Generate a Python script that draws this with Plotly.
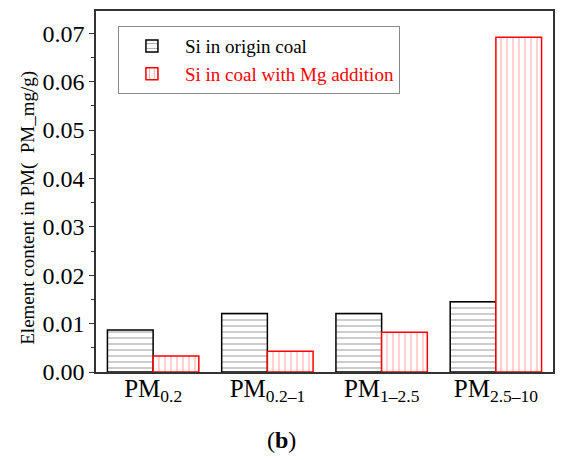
import plotly.graph_objects as go

# Particle size fractions and Si content (mg/g PM)
categories = ["PM<sub>0.2</sub>", "PM<sub>0.2–1</sub>", "PM<sub>1–2.5</sub>", "PM<sub>2.5–10</sub>"]
si_origin = [0.0087, 0.0121, 0.0121, 0.0145]
si_mg_addition = [0.0033, 0.0043, 0.0082, 0.0692]

series_names = ["Si in origin coal", "<span style='color:red'>Si in coal with Mg addition</span>"]
y_title = "Element content in PM(  PM_mg/g)"

FONT = "Liberation Serif"

fig = go.Figure()
fig.add_trace(go.Bar(
    x=categories, y=si_origin, name=series_names[0],
    marker=dict(
        color="white",
        line=dict(color="black", width=1.5),
        pattern=dict(shape="-", fgcolor="#444444", bgcolor="white", size=6, solidity=0.18),
    ),
))
fig.add_trace(go.Bar(
    x=categories, y=si_mg_addition, name=series_names[1],
    marker=dict(
        color="white",
        line=dict(color="red", width=1.5),
        pattern=dict(shape="|", fgcolor="#ff5555", bgcolor="white", size=6, solidity=0.18),
    ),
))

fig.update_layout(
    width=563, height=460,
    margin=dict(l=96, r=8, t=11, b=88),
    plot_bgcolor="white", paper_bgcolor="white",
    barmode="group", bargap=0.2, bargroupgap=0,
    font=dict(family=FONT, color="black"),
    showlegend=True,
    legend=dict(
        x=0.048, y=0.958, xanchor="left", yanchor="top",
        bgcolor="white", bordercolor="#888888", borderwidth=1,
        font=dict(size=19, family=FONT),
        traceorder="normal", itemwidth=56, tracegroupgap=0,
    ),
    xaxis=dict(
        showline=True, linecolor="#333333", linewidth=1.5, mirror=True,
        ticks="", tickfont=dict(size=25, family=FONT),
        ticklabelstandoff=-7,
        range=[-0.5, 3.5],
    ),
    yaxis=dict(
        range=[0, 0.0746], dtick=0.01, tickformat=".2f",
        showline=True, linecolor="#333333", linewidth=1.5, mirror=True,
        ticks="outside", ticklen=5, tickwidth=1, tickcolor="#333333",
        minor=dict(dtick=0.005, ticks="outside", ticklen=3, tickcolor="#333333"),
        showgrid=False, zeroline=False,
        tickfont=dict(size=24, family=FONT),
    ),
    annotations=[
        # y-axis title, set slightly below the plot's vertical centre
        dict(
            text=y_title, xref="paper", yref="paper", x=-0.148, y=0.456,
            xanchor="center", yanchor="middle", textangle=-90, showarrow=False,
            font=dict(size=19, family=FONT),
        ),
        dict(
            text="(<b>b</b>)", xref="paper", yref="paper", x=0.407, y=-0.188,
            xanchor="center", yanchor="middle", showarrow=False,
            font=dict(size=24, family=FONT),
        ),
    ],
)

fig.write_html("out.html")
